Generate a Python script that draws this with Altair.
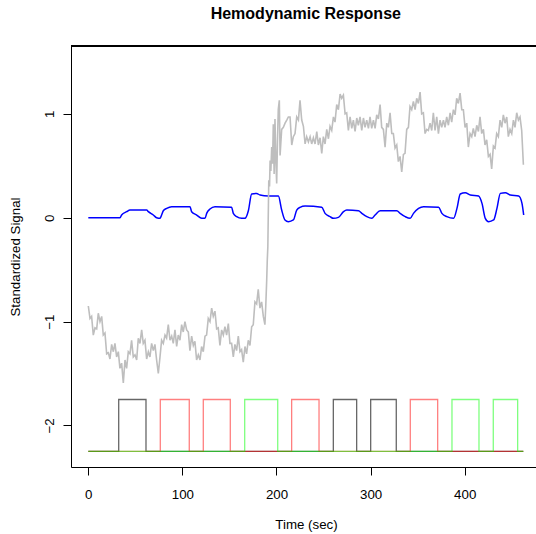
import altair as alt
import pandas as pd

# ---------------- data ----------------
# gray measured signal (time in sec, standardized value)
gray_t_a = [0.0, 1.8, 3.5, 5.3, 7.1, 8.9, 10.6, 12.4, 14.2, 15.9, 17.7, 19.5, 21.3, 23.0, 24.8, 26.6,
            28.3, 30.1, 31.9, 33.6, 35.4, 37.2, 39.0, 40.7, 42.5, 44.3, 46.0, 47.8, 49.6, 51.4, 53.1,
            54.9, 56.7, 58.4, 60.2, 62.0, 63.8, 65.5, 67.3, 69.1, 70.8, 72.6, 74.4, 76.2, 77.9, 79.7,
            81.5, 83.2, 85.0, 86.8, 88.6, 90.3, 92.1, 93.9, 95.6, 97.4, 99.2, 100.9, 102.7, 104.5,
            106.3, 108.0, 109.8, 111.6, 113.3, 115.1, 116.9, 118.7, 120.4, 122.2, 124.0, 125.7, 127.5,
            129.3, 131.1, 132.8, 134.6, 136.4, 138.1, 139.9, 141.7, 143.5, 145.2, 147.0, 148.8, 150.5,
            152.3, 154.1, 155.8, 157.6, 159.4, 161.2, 162.9, 164.7, 166.5, 168.2, 170.0, 171.8, 173.6,
            175.3, 177.1, 178.9, 180.6, 182.4, 184.2, 186.0, 187.7]
gray_v_a = [-0.85, -0.97, -0.95, -1.13, -1.06, -1.07, -0.92, -1.00, -0.95, -1.13,
            -1.11, -1.31, -1.30, -1.36, -1.22, -1.29, -1.21, -1.34, -1.29, -1.45,
            -1.40, -1.59, -1.37, -1.45, -1.29, -1.31, -1.18, -1.34, -1.32, -1.37,
            -1.16, -1.21, -1.08, -1.21, -1.18, -1.36, -1.29, -1.34, -1.21, -1.28,
            -1.22, -1.37, -1.50, -1.34, -1.18, -1.21, -1.13, -1.16, -1.03, -1.18,
            -1.14, -1.21, -1.08, -1.24, -1.13, -1.18, -1.03, -1.10, -1.00, -1.08,
            -1.10, -1.28, -1.14, -1.23, -1.19, -1.37, -1.32, -1.37, -1.24, -1.29,
            -1.14, -1.13, -0.97, -1.00, -0.87, -0.95, -0.90, -1.07, -1.06, -1.23,
            -1.08, -1.13, -1.05, -1.13, -1.02, -1.21, -1.21, -1.34, -1.22, -1.28,
            -1.14, -1.29, -1.27, -1.39, -1.24, -1.31, -1.18, -1.23, -1.05, -1.03,
            -0.81, -0.83, -0.69, -0.87, -0.81, -0.95, -1.03]
gray_t_b = [188.6, 189.6, 190.2, 190.8, 191.3, 191.8, 192.6, 193.2, 194.0, 194.9, 195.8, 196.6,
            197.5, 198.4, 199.3, 200.2, 201.0, 201.9, 203.0]
gray_v_b = [-0.85, -0.60, -0.41, -0.28, 0.05, 0.36, 0.30, 0.55, 0.45, 0.68, 0.52, 0.90,
            0.42, 0.95, 0.55, 0.33, 0.72, 1.04, 1.13]
gray_t_c = [203.8, 205.5, 207.3, 209.1, 210.9, 212.6, 214.4, 216.2, 217.9, 219.7, 221.5, 223.3,
            225.0, 226.8, 228.6, 230.4, 232.1, 233.9, 235.7, 237.4, 239.2, 241.0, 242.8, 244.5,
            246.3, 248.1, 249.8, 251.6, 253.4, 255.2, 256.9, 258.7, 260.5, 262.2, 264.0, 265.8,
            267.6, 269.3, 271.1, 272.9, 274.6, 276.4, 278.2, 280.0, 281.7, 283.5, 285.3, 287.0,
            288.8, 290.6, 292.4, 294.1, 295.9, 297.7, 299.4, 301.2, 303.0, 304.8, 306.5, 308.3,
            310.1, 311.8, 313.6, 315.4, 317.2, 318.9, 320.7, 322.5, 324.2, 326.0, 327.8, 329.5,
            331.3, 333.1, 334.9, 336.6, 338.4, 340.2, 341.9, 343.7, 345.5, 347.3, 349.0, 350.8,
            352.6, 354.3, 356.1, 357.9, 359.7, 361.4, 363.2, 365.0, 366.7, 368.5, 370.3, 372.1,
            373.8, 375.6, 377.4, 379.1, 380.9, 382.7, 384.5, 386.2, 388.0, 389.8, 391.5, 393.3,
            395.1, 396.9, 398.6, 400.4, 402.2, 403.9, 405.7, 407.5, 409.2, 411.0, 412.8, 414.6,
            416.3, 418.1, 419.9, 421.6, 423.4, 425.2, 427.0, 428.7, 430.5, 432.3, 434.0, 435.8,
            437.6, 439.4, 441.1, 442.9, 444.7, 446.4, 448.2, 450.0, 451.8, 453.5, 455.3, 457.1,
            458.8, 460.6, 462.4]
gray_v_c = [0.60, 0.85, 0.87, 0.91, 0.94, 0.97, 0.97, 0.70, 0.78, 0.81,
            0.97, 0.94, 1.13, 0.94, 0.88, 0.71, 0.78, 0.73, 0.78, 0.71,
            0.77, 0.71, 0.83, 0.70, 0.77, 0.62, 0.78, 0.71, 0.85, 0.76,
            0.88, 0.84, 0.97, 0.92, 1.09, 1.04, 1.19, 1.15, 1.18, 1.00,
            1.01, 0.84, 0.97, 0.86, 0.94, 0.83, 0.96, 0.89, 0.97, 0.84,
            0.96, 0.87, 0.94, 0.86, 0.97, 0.86, 0.94, 0.86, 0.99, 0.95,
            1.09, 0.87, 0.85, 0.68, 0.91, 0.87, 1.01, 0.81, 0.81, 0.67,
            0.70, 0.54, 0.59, 0.44, 0.61, 0.62, 0.85, 0.87, 1.07, 1.04,
            1.12, 1.04, 1.15, 1.10, 1.21, 1.00, 1.01, 0.81, 0.85, 0.84,
            0.91, 0.84, 1.01, 0.84, 0.97, 0.81, 0.94, 0.87, 0.94, 0.87,
            0.97, 0.89, 1.01, 0.92, 1.04, 0.99, 1.15, 1.10, 1.20, 1.04,
            1.04, 0.87, 0.91, 0.68, 0.81, 0.78, 0.86, 0.78, 0.89, 0.83,
            0.97, 0.81, 0.85, 0.70, 0.75, 0.59, 0.61, 0.47, 0.69, 0.67,
            0.81, 0.78, 0.94, 0.87, 0.99, 0.91, 0.97, 0.78, 0.85, 0.81,
            0.94, 0.87, 1.01, 0.94, 0.97, 0.84, 0.51]

# blue modelled hemodynamic response
blue_t = [0.0, 33.7, 35.4, 40.8, 44.3, 62.0, 63.8, 69.1, 72.6, 76.2, 77.9, 79.7, 83.3, 88.6,
          108.1, 109.8, 115.2, 120.5, 124.0, 125.8, 129.3, 134.6, 152.3, 154.1, 157.7, 163.0,
          166.5, 170.1, 173.6, 178.9, 182.5, 191.3, 202.0, 205.5, 209.0, 212.6, 217.9, 221.5,
          225.0, 230.4, 248.1, 251.6, 256.9, 260.5, 265.8, 271.2, 274.7, 287.1, 290.7, 296.0,
          301.3, 304.8, 310.2, 327.9, 331.4, 336.8, 342.1, 345.6, 351.0, 356.3, 372.3, 375.8,
          381.1, 388.2, 391.8, 395.3, 400.6, 406.0, 414.8, 418.4, 421.9, 425.4, 430.8, 434.3,
          437.9, 443.2, 448.5, 457.4, 460.9, 462.7]
blue_v = [0.000, 0.000, 0.026, 0.058, 0.074, 0.074, 0.058, 0.026, 0.000, -0.006, 0.026, 0.067,
          0.090, 0.106, 0.106, 0.058, 0.026, -0.006, -0.006, 0.042, 0.083, 0.106, 0.100, 0.042,
          0.010, -0.006, -0.006, 0.067, 0.228, 0.234, 0.218, 0.209, 0.209, 0.074, -0.022, -0.038,
          -0.022, 0.074, 0.100, 0.112, 0.100, 0.042, 0.010, -0.006, 0.003, 0.058, 0.074, 0.067,
          0.042, 0.010, -0.006, 0.026, 0.067, 0.067, 0.042, 0.010, -0.006, 0.042, 0.090, 0.106,
          0.100, 0.042, 0.010, -0.006, 0.090, 0.228, 0.241, 0.218, 0.209, 0.138, -0.006, -0.038,
          -0.022, 0.090, 0.234, 0.241, 0.218, 0.209, 0.138, 0.026]

# stimulus boxcars (onset / offset in sec) for the three conditions
black_on = [32.3, 260.4, 300.1]
black_off = [61.3, 285.2, 327.3]
red_on = [76.5, 122.2, 216.1, 342.2]
red_off = [107.3, 150.9, 245.2, 371.3]
green_on = [166.2, 386.5, 430.4]
green_off = [201.3, 415.2, 456.3]
run_end = 462.3
box_low = -2.25
box_high = -1.75

x_ticks = [0, 100, 200, 300, 400]
y_ticks = [-2, -1, 0, 1]

# ---------------- tables ----------------
gray_df = pd.DataFrame({"t": gray_t_a + gray_t_b + gray_t_c,
                        "v": gray_v_a + gray_v_b + gray_v_c})
gray_df["i"] = range(len(gray_df))
blue_df = pd.DataFrame({"t": blue_t, "v": blue_v})


def boxcar(ons, offs):
    rows = [(0.0, box_low)]
    for a, b in zip(ons, offs):
        rows += [(a, box_low), (a, box_high), (b, box_high), (b, box_low)]
    rows.append((run_end, box_low))
    df = pd.DataFrame(rows, columns=["t", "v"])
    df["i"] = range(len(df))
    return df


FONT = "Liberation Sans"
W, H = 465, 421
xs = alt.Scale(domain=[-18.4, 475.8], nice=False, zero=False)
ys = alt.Scale(domain=[-2.40, 1.653], nice=False, zero=False)

x_axis = alt.Axis(values=x_ticks, format="d", grid=False, tickSize=8, labelPadding=12.3,
                  labelFontSize=13.3, labelFont=FONT, labelColor="black",
                  domainColor="black", tickColor="black", title="Time (sec)",
                  titleFont=FONT, titleFontSize=13.3, titleFontWeight="normal",
                  titleColor="black", titleX=235, titleY=61, titleBaseline="alphabetic",
                  titleAlign="center")
y_axis = alt.Axis(values=y_ticks, format="d", grid=False, tickSize=8, labelPadding=10,
                  labelAngle=270, labelAlign="center", labelBaseline="alphabetic",
                  labelFontSize=13.3, labelFont=FONT, labelColor="black",
                  domainColor="black", tickColor="black", title="Standardized Signal",
                  titleFont=FONT, titleFontSize=13.3, titleFontWeight="normal",
                  titleColor="black", titleAngle=270, titleX=-51.5, titleY=210.5,
                  titleBaseline="alphabetic", titleAlign="center")

blue = alt.Chart(blue_df).mark_line(color="#0000FF", strokeWidth=1.5, interpolate="monotone").encode(
    x=alt.X("t:Q", scale=xs, axis=x_axis),
    y=alt.Y("v:Q", scale=ys, axis=y_axis),
)
gray = alt.Chart(gray_df).mark_line(color="#BEBEBE", strokeWidth=1.6, strokeJoin="miter").encode(
    x=alt.X("t:Q", scale=xs), y=alt.Y("v:Q", scale=ys), order="i:Q"
)


def box_layer(ons, offs, col, op):
    return alt.Chart(boxcar(ons, offs)).mark_line(color=col, strokeWidth=1.3, opacity=op).encode(
        x=alt.X("t:Q", scale=xs), y=alt.Y("v:Q", scale=ys), order="i:Q"
    )


top_rule = alt.Chart(blue_df).mark_rule(color="black", strokeWidth=1).encode(
    x=alt.value(0), x2=alt.value(W + 5), y=alt.value(0)
)

chart = alt.layer(
    blue, gray,
    box_layer(black_on, black_off, "#000000", 0.6),
    box_layer(red_on, red_off, "#FF0000", 0.5),
    box_layer(green_on, green_off, "#00FF00", 0.5),
    top_rule,
).properties(
    width=W, height=H,
    autosize=alt.AutoSizeParams(type="none"),
    padding={"left": 71, "top": 46, "right": 0, "bottom": 67},
    title=alt.TitleParams("Hemodynamic Response", font=FONT, fontSize=16, fontWeight="bold",
                          color="black", anchor="middle", dx=2.3, baseline="alphabetic",
                          offset=10.4),
).configure_view(stroke=None).configure(background="white")

chart.save("out.html", embed_options={"renderer": "svg", "actions": False})
